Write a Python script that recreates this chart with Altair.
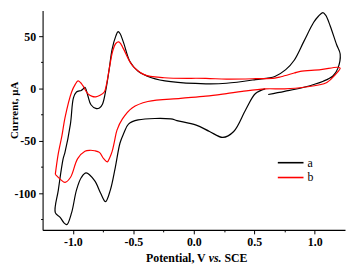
import altair as alt
import pandas as pd

# ---- data ----
series_names = ["a", "b"]
series_colors = ["#000000", "#ff0000"]

a_V = [0.615, 0.75, 0.91, 1.07, 1.15, 1.19, 1.21, 1.18, 1.127, 1.09, 1.067, 1.03, 0.99, 0.91, 0.83,
       0.76, 0.67, 0.51, 0.27, 0.10, -0.19, -0.35, -0.46, -0.527, -0.58, -0.61, -0.626, -0.645,
       -0.675, -0.70, -0.725, -0.755, -0.78, -0.81, -0.85, -0.877, -0.90, -0.915, -0.93, -0.97,
       -0.995, -1.02, -1.065, -1.08, -1.12, -1.145, -1.105, -1.075, -1.05, -1.01, -0.97, -0.93,
       -0.89, -0.82, -0.77, -0.73, -0.69, -0.65, -0.61, -0.58, -0.54, -0.46, -0.19, -0.14, 0.02,
       0.13, 0.24, 0.33, 0.43, 0.51, 0.59]
a_I = [-5.7, -2.7, 1.2, 7, 12, 19, 33, 42, 60, 70, 72.4, 69, 63, 45, 27,
       18, 11.5, 8.5, 5, 4.5, 6.5, 10.3, 16.4, 25.5, 43.6, 52.5, 54.3, 50,
       37.6, 18, 0, -15, -18.5, -19, -15.5, -6.4, 1.2, -0.5, -1.8, -3.3,
       -9, -34, -61, -67, -97, -118.5, -123, -128, -130, -118.5, -97, -85,
       -80.6, -88, -100, -108, -97, -76, -52, -43, -34, -30, -29, -30.6, -35,
       -41, -46.7, -41, -20, -4.8, -0.3]

b_V = [-1.145, -1.12, -1.09, -1.065, -1.01, -0.98, -0.957, -0.935, -0.917, -0.877, -0.84, -0.81,
       -0.775, -0.74, -0.72, -0.70, -0.67, -0.645, -0.62, -0.60, -0.58, -0.51, -0.41, -0.245,
       0.10, 0.27, 0.51, 0.67, 0.72, 0.83, 0.88, 1.05, 1.19, 1.21, 1.17, 1.10, 0.91, 0.75, 0.59,
       0.40, 0.27, 0.10, -0.11, -0.38, -0.51, -0.59, -0.635, -0.655, -0.675, -0.695, -0.715,
       -0.745, -0.78, -0.82, -0.86, -0.90, -0.96, -1.02, -1.065, -1.10, -1.145]
b_I = [-82, -62, -45, -28, -3.3, 4, 7.3, 5.5, 2.7, -4.8, -7.5, -7.9,
       -6.5, -3.3, 5, 18, 36, 43, 44.5, 42, 37.6, 22.4, 13.3, 10.3,
       9.7, 9, 9.4, 10, 11.2, 14.8, 16.4, 18, 20.3, 19.4, 13.3, 5.8, 1.2, -0.3, -0.3,
       -2.7, -4.8, -7.3, -9.4, -12.4, -18.5, -29, -39.7, -50, -60, -66, -70,
       -67, -61, -59.4, -59, -60, -67, -85, -89.7, -87, -82]

x_ticks = [-1.0, -0.75, -0.5, -0.25, 0.0, 0.25, 0.5, 0.75, 1.0]
y_ticks = [-125, -100, -75, -50, -25, 0, 25, 50]
x_domain = [-1.25, 1.25]
y_domain = [-135, 74.5]
x_title_parts = ["Potential, V", "vs.", "SCE"]
y_title = "Current, µA"

rows = []
for name, V, I in [("a", a_V, a_I), ("b", b_V, b_I)]:
    for k, (v, i) in enumerate(zip(V, I)):
        rows.append({"series": name, "V": v, "I": i, "k": k})
df = pd.DataFrame(rows)

FONT = "Liberation Serif"
W, H = 306, 222
TOTAL_H = 258

x_major = "abs(datum.value*2 - round(datum.value*2)) < 0.001"
y_major = "abs(datum.value/50 - round(datum.value/50)) < 0.001"

x_axis = alt.Axis(
    values=x_ticks,
    title=None,
    grid=False,
    labelExpr="(" + x_major + ") ? ((datum.value < 0 ? '-' : '') + format(abs(datum.value), '.1f')) : ''",
    tickSize={"condition": {"test": x_major, "value": 4}, "value": 2},
    labelOverlap=False,
    labelPadding=3,
)
y_axis = alt.Axis(
    values=y_ticks,
    title=None,
    grid=False,
    labelExpr="(" + y_major + ") ? ((datum.value < 0 ? '-' : '') + format(abs(datum.value), 'd')) : ''",
    tickSize={"condition": {"test": y_major, "value": 4}, "value": 2},
    labelOverlap=False,
    labelPadding=3,
)

lines = alt.Chart(df).mark_line(strokeWidth=1.2, interpolate="catmull-rom").encode(
    x=alt.X("V:Q", scale=alt.Scale(domain=x_domain, nice=False, zero=False), axis=x_axis),
    y=alt.Y("I:Q", scale=alt.Scale(domain=y_domain, nice=False, zero=False), axis=y_axis),
    color=alt.Color("series:N", scale=alt.Scale(domain=series_names, range=series_colors), legend=None),
    order="k:Q",
)

layers = [lines]

# manual legend
leg_y = [154, 169]
for name, col, yy in zip(series_names, series_colors, leg_y):
    d = pd.DataFrame({"s": [name]})
    layers.append(alt.Chart(d).mark_rule(color=col, strokeWidth=1.6).encode(
        x=alt.value(238), x2=alt.value(264), y=alt.value(yy)))
    layers.append(alt.Chart(d).mark_text(font=FONT, fontSize=12, align="left", baseline="middle",
                                         color="black").encode(
        x=alt.value(268), y=alt.value(yy), text="s:N"))

# axis titles as text marks (x title has italic "vs.")
t = pd.DataFrame({"t": [0]})
layers.append(alt.Chart(t).mark_text(font=FONT, fontSize=12, fontWeight="bold", align="right",
                                     baseline="alphabetic", color="black").encode(
    x=alt.value(165), y=alt.value(254), text=alt.value(x_title_parts[0])))
layers.append(alt.Chart(t).mark_text(font=FONT, fontSize=12, fontWeight="bold", fontStyle="italic",
                                     align="left", baseline="alphabetic", color="black").encode(
    x=alt.value(168), y=alt.value(254), text=alt.value(x_title_parts[1])))
layers.append(alt.Chart(t).mark_text(font=FONT, fontSize=12, fontWeight="bold", align="left",
                                     baseline="alphabetic", color="black").encode(
    x=alt.value(184), y=alt.value(254), text=alt.value(x_title_parts[2])))
layers.append(alt.Chart(t).mark_text(font=FONT, fontSize=11, fontWeight="bold", angle=270,
                                     align="center", baseline="middle", color="black").encode(
    x=alt.value(-28), y=alt.value(101), text=alt.value(y_title)))

chart = alt.layer(*layers).properties(
    width=W, height=H,
    autosize=alt.AutoSizeParams(type="none"),
    padding={"left": 35, "top": 1, "right": 1, "bottom": TOTAL_H - 1 - H},
).configure_view(stroke=None).configure_axis(
    domainColor="black", domainWidth=1.1, tickColor="black", tickWidth=1,
    labelFont=FONT, labelFontSize=12, labelFontWeight="bold", labelColor="black",
)

chart.save("out.html", embed_options={"renderer": "svg", "actions": False})
